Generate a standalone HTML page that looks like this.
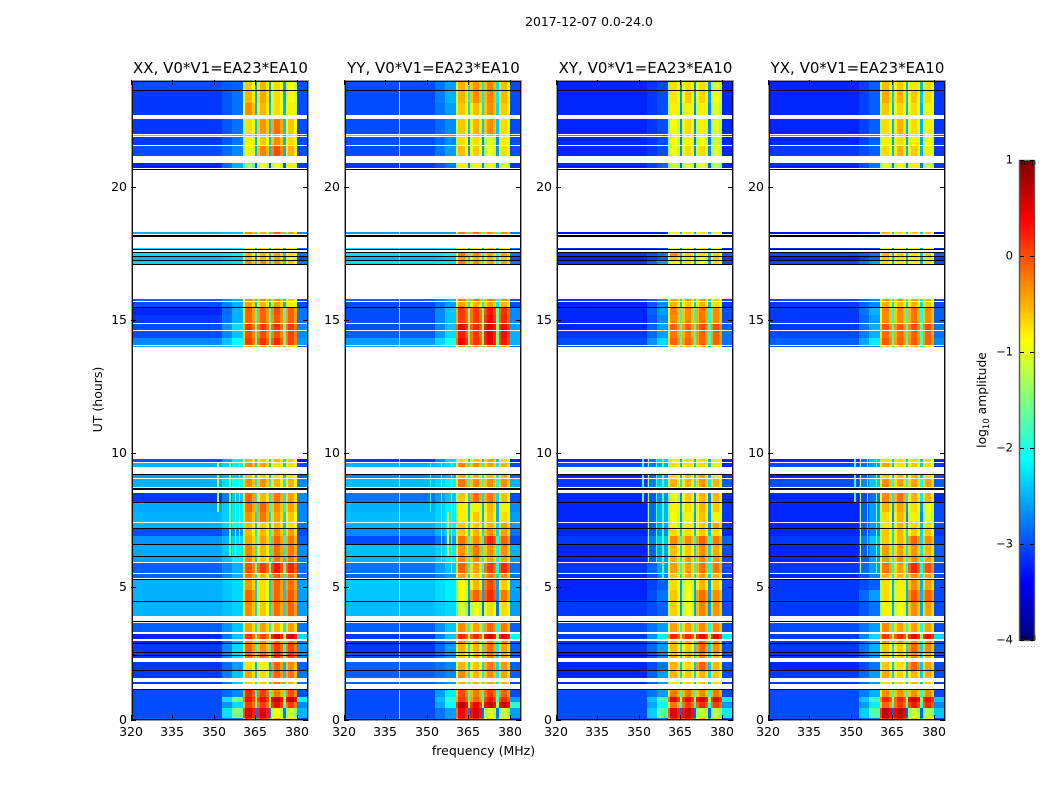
<!DOCTYPE html>
<html lang="en">
<head>
<meta charset="utf-8">
<title>2017-12-07 0.0-24.0</title>
<style>
html,body{margin:0;padding:0;background:#fff;width:1050px;height:800px;overflow:hidden}
svg{display:block}
text{font-family:"DejaVu Sans","Liberation Sans",sans-serif;fill:#000}
</style>
</head>
<body>
<svg id="chart" xmlns="http://www.w3.org/2000/svg" width="1050" height="800" viewBox="0 0 1050 800">
  <defs>
    <linearGradient id="jetGrad" x1="0" y1="1" x2="0" y2="0"></linearGradient>
  </defs>
  <rect x="0" y="0" width="1050" height="800" fill="#fff"/>
  <text x="589" y="26" font-size="12.4" text-anchor="middle">2017-12-07 0.0-24.0</text>
  <text x="483.5" y="755" font-size="12.5" text-anchor="middle">frequency (MHz)</text>
  <text transform="translate(102,399.5) rotate(-90)" font-size="12.5" text-anchor="middle">UT (hours)</text>
  <text transform="translate(986,400) rotate(-90)" font-size="12.3" text-anchor="middle">log<tspan font-size="8.5" dy="3">10</tspan><tspan dy="-3"> amplitude</tspan></text>
  <g id="panels"></g>
  <g id="colorbar"></g>
</svg>
<script>
// Time rows (UT hours), top and bottom of each integration block
const rowTop    = [24.00,23.58,23.13,22.52,21.95,21.86,21.52,20.90,18.31,17.70,17.53,17.36,17.21,15.79,15.67,15.45,15.17,14.85,14.59,14.32,14.02,9.79,9.62,9.21,9.04,8.53,8.14,7.80,7.39,7.16,6.90,6.56,6.11,5.87,5.47,5.27,4.87,4.42,3.62,3.24,2.98,2.86,2.51,2.40,2.19,1.86,1.44,1.14,0.86,0.67,0.45,0.06];
const rowBottom = [23.62,23.13,22.69,21.99,21.90,21.56,21.15,20.70,18.24,17.64,17.40,17.25,17.10,15.71,15.49,15.17,14.88,14.62,14.32,14.06,13.97,9.67,9.49,9.07,8.74,8.16,7.80,7.42,7.20,6.90,6.60,6.15,5.91,5.51,5.32,4.87,4.46,3.90,3.31,3.04,2.89,2.55,2.44,2.32,1.89,1.57,1.36,0.86,0.67,0.45,0.09,0.00];

// Flagged (black) integrations: UT centre of each line
const flagLinesUT = [23.62,20.68,18.20,17.66,17.55,17.39,17.24,17.09,15.47,9.22,8.70,8.16,7.19,6.59,6.14,5.30,4.45,3.73,2.89,2.54,2.43,1.89,1.17];
const flagThick   = [1,1,2,1,1,1,1,1,1,1,2,1,1,1,1,1,1,1,1,1,1,1,1];

// Frequency edges of the spectral columns, MHz
const freqEdges = [320,353,356.5,360.4,361.4,363.7,364.7,365.6,366.6,368.9,369.9,370.8,371.8,374,375,375.9,376.9,379,380,384];

// log10 amplitude per row: [below 353, 356-360, band 1, band 2, band 3, band 4, above 380]
const valuesXX = [
[-3.0,-2.9,-.6,-.5,-.7,-.9,-3],[-3.1,-2.8,-.5,-.45,-.7,-.85,-3],[-3.1,-2.8,-.3,-.5,-.7,-.8,-3],[-3.1,-2.8,-.7,-.35,-.15,-.6,-3],[-2.2,-2.4,-.5,-.5,-.5,-.7,-2.8],[-3.1,-2.8,-.8,-.6,-.3,-.7,-3],[-3,-2.7,-.8,-.25,0,-.5,-3],[-3.2,-2.5,-1.3,-.9,-.9,-.8,-3.1],[-2.5,-2.4,-.3,-.5,-.1,-.4,-2.7],[-2.3,-2.2,-.8,-.7,-.6,-.8,-2.8],[-2.3,-2.2,-.5,-.5,-.4,-.7,-2.8],[-2.5,-2.4,-.5,-.5,-.4,-.9,-3],[-2.35,-2.3,-.3,-.3,-.3,-.6,-2.8],
[-2.9,-2.5,-.3,-.3,-.3,-.6,-3],[-3,-2.5,-.4,-.5,-.4,-.8,-3],[-3.2,-2.5,-.1,-.1,0,-.1,-2.8],[-3.1,-2.5,-.1,-.1,-.05,-.1,-2.8],[-3,-2.3,.1,.1,.15,.1,-2.7],[-3,-2.4,0,0,0,.05,-2.7],[-2.7,-2.1,.1,.15,.2,.05,-2.6],[-2.5,-2.3,-.4,-.4,-.4,-.6,-3],
[-3,-2.2,-.5,-.6,-.5,-.6,-3.3],[-2.5,-2.2,-.3,-.4,-.7,-.7,-3],[-2.6,-2.4,-.6,-.6,-.7,-.7,-2.9],[-2.5,-2.1,-.3,-.3,-.5,-.5,-2.7],[-3.1,-2.4,-.1,-.5,-.2,-.4,-2.7],[-2.55,-2.2,-.15,-.1,-.3,-.4,-2.7],[-2.5,-2.2,-.3,-.2,-.4,-.6,-2.7],[-2.5,-2.1,-.5,-.6,-.5,-.7,-2.8],[-3,-2.6,-.5,-.5,-.3,-.4,-3],[-2.65,-2.3,-.4,-.4,-.1,-.2,-2.9],[-2.55,-2.2,-.25,-.5,-.15,-.2,-2.7],[-2.6,-2.2,-.3,-.6,-.2,-.2,-2.7],[-2.9,-2.5,0,.1,.3,.2,-2.8],[-2.9,-2.5,-.2,-.5,-.1,-.2,-2.8],[-2.5,-2.3,-.35,-.7,-.1,-.15,-2.6],[-2.5,-2.3,-.1,-.7,-.1,-.05,-2.6],[-2.5,-2.35,-.3,-.6,-.15,-.1,-2.6],
[-2.9,-2.4,-.4,-.4,-.5,-.4,-2.8],[-3.2,-2.4,.1,.05,.5,.55,-2.3],[-3.2,-2.5,-.3,-.3,-.2,-.2,-2.8],[-3.1,-2.3,-.1,-.3,.1,.05,-2.6],[-3.1,-2.3,-.1,-.1,.2,.1,-2.7],[-3.1,-2.3,-.1,-.1,.2,.1,-2.7],[-3.1,-2.6,-.7,-.8,-.1,-.3,-2.9],[-3.1,-2.4,-.4,-.7,-.1,-.2,-2.8],[-3.1,-2.4,-.6,-.6,-.2,-.5,-2.8],[-3,-2.7,.2,.1,-.2,0,-3],[-3,-1.5,.35,.35,.7,.7,-2.1],[-3,-2.3,.1,.1,.4,.1,-2.7],[-3,-1.5,.55,.55,-.9,-1.1,-2.5],[-2.9,-2.7,.1,.1,-.5,-.7,-3]
];
const valuesYY = [
[-3,-2.6,-.5,-.35,-.25,-.55,-3],[-3,-2.5,-.5,-.3,-.25,-.5,-3],[-3,-2.6,-.6,-.55,-.3,-.6,-3],[-3,-2.7,-.6,-.5,-.3,-.7,-3],[-2.2,-2.5,-.6,-.5,-.5,-.7,-2.9],[-3,-2.7,-.7,-.7,-1,-.8,-3],[-3,-2.6,-.55,-.6,-.9,-.7,-3],[-3.1,-2.8,-.8,-.8,-.9,-1,-3.1],[-2.6,-2.6,-.2,-.2,-.3,-.3,-2.8],[-2.3,-2.2,-.7,-.7,-.6,-.8,-2.8],[-2.3,-2.2,-.2,-.3,-.4,-.4,-2.8],[-2.5,-2.4,-.4,-.5,-.5,-.6,-3],[-2.3,-2.3,-.25,-.3,-.4,-.4,-2.8],
[-2.9,-2.5,-.2,-.2,-.2,-.3,-3],[-3,-2.6,-.4,-.5,-.4,-.5,-3],[-3,-2.4,.1,.1,.3,.15,-2.7],[-3,-2.4,.1,.1,.4,.2,-2.7],[-3,-2.4,.45,.2,.55,.4,-2.6],[-2.9,-2.3,.25,.1,.5,.35,-2.5],[-2.6,-2,.4,.15,.5,.3,-2.5],[-2.6,-2.3,-.3,-.3,-.2,-.4,-3],
[-3.1,-2.3,-.7,-.6,-.4,-.7,-3.2],[-2.5,-2.3,-.25,-.3,-.4,-.5,-3],[-2.7,-2.5,-.5,-.5,-.5,-.5,-2.9],[-2.45,-2.2,-.2,-.3,-.3,-.3,-2.5],[-2.8,-2.4,-.6,-.15,-.2,-.55,-3],[-2.5,-2.2,-.8,-.8,-.5,-.8,-2.7],[-2.45,-2.2,-.8,-.6,-.55,-.7,-2.6],[-2.5,-2.2,-.6,-.6,-.5,-.4,-2.6],[-2.7,-2.3,-.6,-.5,-.3,-.4,-2.8],[-3,-2.6,-.2,-.3,.2,-.1,-3],[-2.45,-2.2,-.35,-.2,-.3,-.3,-2.5],[-2.5,-2.2,-.3,-.3,-.4,-.4,-2.6],[-2.8,-2.4,-.1,-.4,.1,.2,-2.8],[-2.9,-2.6,-.4,-.6,-.2,-.3,-2.8],[-2.4,-2.2,-.9,-.5,.05,-.6,-2.6],[-2.4,-2.2,-.9,-.1,.2,-.2,-2.6],[-2.45,-2.3,-1.1,-.9,-.7,-.7,-2.6],
[-2.9,-2.4,-.3,-.4,-.1,-.2,-2.9],[-3.1,-2.4,.2,.2,.55,.5,-2.1],[-3.1,-2.7,-.3,-.4,-.3,-.3,-2.9],[-3.1,-2.6,-.5,-.5,-.15,-.4,-2.9],[-3,-2.6,-.6,-.5,-.2,-.4,-2.9],[-3,-2.6,-.6,-.5,-.2,-.4,-2.9],[-2.9,-2.7,-.5,-.6,-.2,-.35,-2.9],[-2.9,-2.7,-.3,-.5,-.3,-.4,-2.9],[-2.9,-2.6,-.5,-.5,-.4,-.5,-3],[-3,-2.2,0,-.2,.1,-.1,-3],[-3,-1.9,.1,-.1,.3,.2,-2.6],[-3,-2.1,.7,.4,.65,.65,-1.9],[-3,-2.6,.4,.6,-1,-1.1,-2.6],[-2.9,-2.7,.1,.1,-.6,-.8,-3]
];
const valuesXY = [
[-3.2,-3,-.7,-.7,-.7,-1,-3.2],[-3.2,-3,-.75,-.6,-.65,-.9,-3.2],[-3.2,-3,-.8,-.8,-.8,-1,-3.2],[-3.2,-3,-.9,-.7,-.8,-1,-3.2],[-2.6,-2.8,-.8,-.7,-.8,-1,-3.1],[-3.2,-3,-.9,-.8,-.9,-1.1,-3.2],[-3.2,-3,-.9,-.7,-.7,-1,-3.2],[-3.2,-2.9,-1.1,-1,-.9,-1.2,-3.2],[-3.3,-3.2,-.8,-.7,-.7,-.8,-3.3],[-3.2,-3.1,-.9,-.8,-.8,-.9,-3.2],[-3.1,-2.8,-.3,-.6,-.7,-.6,-2.9],[-3.2,-2.9,-.6,-.7,-.9,-.6,-3.1],[-3.1,-2.6,-.8,-.7,-.9,-.7,-3],
[-3.1,-2.7,-.4,-.4,-.4,-.6,-3.1],[-3.2,-2.7,-.5,-.6,-.5,-.7,-3.1],[-3.2,-2.6,-.25,-.3,-.2,-.3,-3],[-3.2,-2.7,-.3,-.3,-.2,-.3,-3],[-3.2,-2.6,-.1,-.1,0,0,-2.9],[-3.1,-2.6,-.2,-.2,-.1,-.1,-2.8],[-3,-2.3,-.1,-.1,-.1,-.1,-2.8],[-3,-2.7,-.6,-.6,-.5,-.7,-3.1],
[-3.2,-2.4,-.8,-.7,-.7,-.8,-3.2],[-3,-2.6,-.7,-.7,-.7,-.8,-3.2],[-3.2,-2.6,-.7,-.6,-.4,-.8,-3.1],[-3.1,-2.4,-.5,-.5,-.35,-.5,-2.9],[-3.2,-2.7,-1,-.6,-.5,-.5,-3.2],[-3.2,-2.5,-.8,-.7,-.5,-.6,-3.1],[-3.2,-2.5,-.9,-.8,-.55,-.8,-3.1],[-3.2,-2.6,-.9,-.8,-.6,-.4,-3.1],[-3.2,-2.7,-.7,-.7,-.6,-.7,-3.2],[-3.1,-2.4,-.3,-.3,-.1,-.2,-2.9],[-3.2,-2.6,-.55,-.6,-.3,-.45,-3],[-3.2,-2.6,-.5,-.4,-.3,-.35,-3],[-3.1,-2.6,-.4,-.4,-.2,-.2,-3],[-3.2,-2.7,-.6,-.5,-.4,-.5,-3.1],[-3.2,-2.9,-.7,-.9,-.5,-.6,-3],[-3.2,-2.8,-.6,-.9,-.15,-.3,-3],[-3.1,-2.9,-.65,-.9,-.25,-.35,-3],
[-3,-2.6,-.4,-.4,-.3,-.3,-3],[-3.1,-2.2,.2,.2,.4,.4,-2.2],[-3.1,-2.6,-.5,-.5,-.1,-.3,-3],[-3.1,-2.6,-.55,-.6,-.1,-.3,-3],[-3.2,-2.7,-.5,-.5,-.3,-.5,-3],[-3.2,-2.7,-.5,-.5,-.3,-.5,-3],[-3.2,-2.8,-.5,-.7,-.1,-.5,-3],[-3.2,-2.6,-.5,-.6,-.5,-.6,-3],[-3.2,-2.6,-.7,-.7,-.6,-.7,-3.1],[-3,-2.6,-.2,-.2,-.3,-.2,-3],[-3,-1.8,.4,.4,.6,.4,-2.2],[-3,-2.1,-.2,.1,.2,.1,-2.6],[-3,-1.7,.5,.6,-1.1,-1.2,-2.2],[-3,-2.7,.1,.2,-.6,-.7,-3]
];
const valuesYX = [
[-3.2,-2.9,-.55,-.6,-.75,-.7,-3.1],[-3.2,-2.9,-.45,-.5,-.6,-.7,-3.1],[-3.2,-2.9,-.6,-.65,-.7,-.8,-3.1],[-3.2,-2.9,-.7,-.5,-.7,-.8,-3.1],[-2.5,-2.7,-.6,-.6,-.7,-.9,-3],[-3.2,-2.9,-.8,-.7,-.8,-.9,-3.1],[-3.1,-2.9,-.7,-.5,-.6,-.8,-3.1],[-3.2,-2.8,-1,-.9,-.8,-1.1,-3.1],[-3.3,-3.1,-.5,-.7,-.6,-.6,-3.3],[-3.2,-3.1,-.9,-.8,-.8,-.9,-3.2],[-3,-2.8,-.5,-.6,-.7,-.6,-2.9],[-3.2,-2.9,-.6,-.7,-.8,-.7,-3.1],[-3,-2.6,-.7,-.7,-.8,-.7,-3],
[-3,-2.7,-.4,-.4,-.4,-.5,-3],[-3.1,-2.7,-.5,-.55,-.5,-.6,-3],[-3.1,-2.5,-.3,-.3,-.2,-.3,-2.9],[-3.1,-2.6,-.3,-.3,-.2,-.3,-2.9],[-3.1,-2.5,-.05,-.05,0,0,-2.8],[-3,-2.5,-.15,-.15,-.1,-.1,-2.8],[-2.9,-2.2,-.05,-.1,-.05,-.1,-2.7],[-3,-2.7,-.6,-.6,-.5,-.7,-3.1],
[-3.2,-2.4,-.7,-.7,-.7,-.7,-3.2],[-3,-2.6,-.4,-.7,-.6,-.7,-3.1],[-3.2,-2.6,-.6,-.6,-.5,-.7,-3],[-3,-2.4,-.3,-.4,-.4,-.4,-2.9],[-3.2,-2.8,-.3,-.2,-.5,-.5,-3.2],[-3.2,-2.6,-.5,-.4,-.7,-.9,-3],[-3.2,-2.6,-.7,-.5,-.8,-1,-3],[-3.2,-2.6,-.75,-.5,-.7,-.7,-3],[-3.2,-2.7,-.6,-.5,-.6,-.6,-3.1],[-3.1,-2.4,-.6,-.5,-.1,-.3,-3],[-3.2,-2.6,-.4,-.4,-.35,-.5,-2.9],[-3.2,-2.6,-.4,-.35,-.3,-.4,-2.9],[-3.1,-2.6,-.2,-.4,.2,0,-3],[-3.2,-2.7,-.5,-.5,-.3,-.4,-3],[-3.1,-2.9,-.7,-.8,-.3,-.4,-3],[-3.1,-2.6,-.7,-.8,-.05,-.1,-3],[-3.1,-2.8,-.8,-.85,-.3,-.4,-3],
[-3,-2.6,-.3,-.4,-.4,-.4,-3],[-3.1,-2.3,.1,.2,.45,.4,-2.3],[-3.1,-2.6,-.35,-.4,-.3,-.35,-3],[-3.1,-2.5,-.6,-.6,-.1,-.3,-2.9],[-3.1,-2.6,-.6,-.6,-.3,-.5,-3],[-3.1,-2.6,-.6,-.6,-.3,-.5,-3],[-3.2,-2.8,-.6,-.7,-.1,-.4,-3],[-3.1,-2.6,-.45,-.65,-.5,-.45,-3],[-3.1,-2.6,-.7,-.7,-.5,-.6,-3.1],[-3,-2.5,-.3,-.3,-.3,-.3,-3],[-3,-1.8,.2,.2,.65,.4,-2.4],[-3,-2.2,-.1,.1,.3,.2,-2.7],[-3,-1.7,.65,.7,-1.1,-1.2,-2.4],[-3,-2.7,.2,.3,-.6,-.7,-3]
];

// Narrow-band interference: [freq low, freq high, UT low, UT high, log10 amplitude]
const rfiXX = [[351,351.8,7.55,9.7,-1.2],[355.5,356,6,9.7,-1.5],[357.5,358,6,8.7,-1.2],[359,359.5,6.6,9.7,-1.2]];
const rfiYY = [[339.8,340.2,0,24,-1.3],[351,351.6,7.5,9.7,-1.9],[355,355.4,5.6,9.7,-1.7],[357.3,357.8,6,8,-1],[358.6,359,5.5,9.7,-1.5]];
const rfiXY = [[351,351.8,7.85,9.8,-1.9],[353.4,353.8,5.9,9.8,-1.3],[356,356.4,5.7,9.8,-1.8],[358.5,359,5,9.8,-1.8]];
const rfiYX = [[351,351.8,7.85,9.8,-1.9],[353.2,353.7,5.4,9.8,-1.2],[355.7,356.1,6.1,9.8,-1.8],[359,359.5,5.5,9.8,-1.6]];

// Axis ticks and labels
const xTicks = [320,335,350,365,380];
const yTicks = [0,5,10,15,20];
const cbarTicks = [1,0,-1,-2,-3,-4];

const panelNames = ['xx','yy','xy','yx'];
const panelTitles = ['XX, V0*V1=EA23*EA10','YY, V0*V1=EA23*EA10','XY, V0*V1=EA23*EA10','YX, V0*V1=EA23*EA10'];
const panelValues = [valuesXX,valuesYY,valuesXY,valuesYX];
const panelRfi = [rfiXX,rfiYY,rfiXY,rfiYX];
const panelLefts = [131,344,556,768];

const SVGNS = 'http://www.w3.org/2000/svg';
const FREQ_MIN = 320, FREQ_MAX = 384, UT_MIN = 0, UT_MAX = 24;
const PANEL_W = 177, PANEL_TOP = 80, PANEL_H = 640;
const AMP_MIN = -4, AMP_MAX = 1;
const GAP_DEPTH = 1.7, BAND_EDGE_DROP = 0.3, BAND_START_DROP = 0.6;

function xScale(left, f){ return left + (f - FREQ_MIN) / (FREQ_MAX - FREQ_MIN) * PANEL_W; }
function yScale(ut){ return PANEL_TOP + (UT_MAX - ut) / (UT_MAX - UT_MIN) * PANEL_H; }
function cbarScale(v){ return 160 + (AMP_MAX - v) / (AMP_MAX - AMP_MIN) * 480; }

function jetChannel(t, o){
  return Math.max(0, Math.min(1, 1.5 - Math.abs(4 * t - o)));
}
function jet(v){
  const t = Math.max(0, Math.min(1, (v - AMP_MIN) / (AMP_MAX - AMP_MIN)));
  const r = Math.round(255 * jetChannel(t, 3));
  const g = Math.round(255 * jetChannel(t, 2));
  const b = Math.round(255 * jetChannel(t, 1));
  return 'rgb(' + r + ',' + g + ',' + b + ')';
}
function make(tag, attrs, parent){
  const el = document.createElementNS(SVGNS, tag);
  for (const k in attrs) el.setAttribute(k, attrs[k]);
  parent.appendChild(el);
  return el;
}
function columnValue(row, c){
  const gap = Math.min(row[2], row[3], row[4], row[5]) - GAP_DEPTH;
  switch (c) {
    case 0: return row[0];
    case 1: return (row[0] + row[1]) / 2;
    case 2: return row[1];
    case 3: return row[2] - BAND_START_DROP;
    case 4: return row[2];
    case 5: return row[2] - BAND_EDGE_DROP;
    case 6: return gap;
    case 7: return row[3] - BAND_EDGE_DROP;
    case 8: return row[3];
    case 9: return row[3] - BAND_EDGE_DROP;
    case 10: return gap;
    case 11: return row[4] - BAND_EDGE_DROP;
    case 12: return row[4];
    case 13: return row[4] - BAND_EDGE_DROP;
    case 14: return gap;
    case 15: return row[5] - BAND_EDGE_DROP;
    case 16: return row[5];
    case 17: return row[5] - BAND_EDGE_DROP;
    default: return row[6];
  }
}

const panelsRoot = document.getElementById('panels');
panelNames.forEach(function(name, p){
  const left = panelLefts[p];
  const g = make('g', {'shape-rendering':'crispEdges'}, panelsRoot);
  
  

  // heatmap cells
  panelValues[p].forEach(function(row, r){
    const y0 = Math.round(yScale(rowTop[r]));
    const y1 = Math.max(y0 + 1, Math.round(yScale(rowBottom[r])));
    for (let c = 0; c < freqEdges.length - 1; c++) {
      const x0 = Math.round(xScale(left, freqEdges[c]));
      const x1 = Math.round(xScale(left, freqEdges[c + 1]));
      const cell = make('rect', {x:x0, y:y0, width:Math.max(1, x1 - x0), height:y1 - y0, fill:jet(columnValue(row, c))}, g);
      
      
    }
    panelRfi[p].forEach(function(line){
      if (rowBottom[r] >= line[2] && rowTop[r] <= line[3]) {
        const lx0 = Math.round(xScale(left, line[0]));
        const lx1 = Math.round(xScale(left, line[1]));
        const rfi = make('rect', {x:lx0, y:y0, width:Math.max(1, lx1 - lx0), height:y1 - y0, fill:jet(line[4])}, g);
        
        
      }
    });
  });

  // flagged lines
  flagLinesUT.forEach(function(ut, i){
    const flag = make('rect', {x:left, y:Math.round(yScale(ut)), width:PANEL_W, height:flagThick[i], fill:'#000'}, g);
    
    
  });

  // frame: soft outer edge plus dark inner edge
  const frameOuter = make('rect', {x:left + 0.5, y:PANEL_TOP + 0.5, width:PANEL_W, height:PANEL_H, fill:'none', stroke:'#999', 'stroke-width':1}, g);
  
  
  const frame = make('rect', {x:left + 1.5, y:PANEL_TOP + 1.5, width:PANEL_W - 2, height:PANEL_H - 2, fill:'none', stroke:'#111', 'stroke-width':1}, g);
  
  

  // x ticks and labels
  xTicks.forEach(function(t){
    const x = Math.round(xScale(left, t)) + 0.5;
    const tb = make('line', {x1:x, x2:x, y1:PANEL_TOP + PANEL_H, y2:PANEL_TOP + PANEL_H - 5, stroke:'#000'}, g);
    
    
    const tt = make('line', {x1:x, x2:x, y1:PANEL_TOP, y2:PANEL_TOP + 5, stroke:'#000'}, g);
    
    
    const lab = make('text', {x:x - 0.5, y:736, 'font-size':12.5, 'text-anchor':'middle'}, g);
    lab.textContent = String(t);
    
    
  });

  // y ticks and labels
  yTicks.forEach(function(t){
    const y = Math.round(yScale(t)) + 0.5;
    const tl = make('line', {x1:left, x2:left + 5, y1:y, y2:y, stroke:'#000'}, g);
    
    
    const tr = make('line', {x1:left + PANEL_W, x2:left + PANEL_W - 5, y1:y, y2:y, stroke:'#000'}, g);
    
    
    const lab = make('text', {x:left - 4, y:y + 3.5, 'font-size':12.5, 'text-anchor':'end'}, g);
    lab.textContent = String(t);
    
    
  });

  // title
  const title = make('text', {x:left + PANEL_W / 2 + 1, y:73, 'font-size':15, 'text-anchor':'middle'}, g);
  title.textContent = panelTitles[p];
  
  
});

// colorbar
const grad = document.getElementById('jetGrad');
for (let i = 0; i <= 32; i++) {
  const amp = AMP_MIN + (AMP_MAX - AMP_MIN) * i / 32;
  make('stop', {offset:(i / 32 * 100) + '%', 'stop-color':jet(amp)}, grad);
}
const cbar = document.getElementById('colorbar');
const bar = make('rect', {x:1019.5, y:160.5, width:15, height:480, fill:'url(#jetGrad)', stroke:'#555', 'stroke-width':1.4}, cbar);


cbarTicks.forEach(function(v){
  const y = Math.round(cbarScale(v)) + 0.5;
  const a = make('line', {x1:1020, x2:1024, y1:y, y2:y, stroke:'#000'}, cbar);
  
  
  const b = make('line', {x1:1030, x2:1034, y1:y, y2:y, stroke:'#000'}, cbar);
  
  
  const lab = make('text', {x:1013, y:y + 3, 'font-size':11.5, 'text-anchor':'end'}, cbar);
  lab.textContent = (v < 0 ? '\u2212' + Math.abs(v) : String(v));
  
  
});
[0,1,2,3,4,5].forEach(function(i){
  const x = 1022 + i * 2.6;
  const top = make('line', {x1:x, x2:x, y1:161, y2:165, stroke:'#000', 'stroke-width':0.7}, cbar);
  
  
  const bot = make('line', {x1:x, x2:x, y1:635, y2:640, stroke:'#000', 'stroke-width':0.7}, cbar);
  
  
  const dot = make('rect', {x:1017.5 + i * 3.3, y:646, width:1, height:1, fill:'#999'}, cbar);
  
  
});
</script>
</body>
</html>
